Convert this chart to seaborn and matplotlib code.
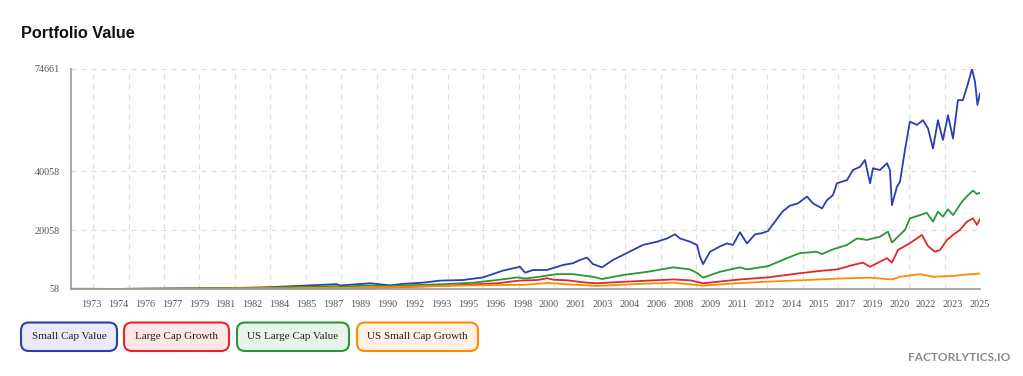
import numpy as np
import pandas as pd
import seaborn as sns
import matplotlib.pyplot as plt
from matplotlib.patches import FancyBboxPatch
from matplotlib.transforms import IdentityTransform

# --- data (decimal years, portfolio value) ---
series_names = ['Small Cap Value', 'Large Cap Growth', 'US Large Cap Value', 'US Small Cap Growth']
line_colors = ['#2c3eb0', '#e3262a', '#2a9634', '#ff8a00']
box_fills = ['#e8ebf8', '#fde6e6', '#e8f4ea', '#fff2e4']

scv_years = [1972.08, 1973.0, 1974.8, 1976.0, 1978.0, 1980.0, 1981.5, 1983.13, 1985.0, 1986.5,
             1987.6, 1987.85, 1989.57, 1990.74, 1991.5, 1992.67, 1993.66, 1995.01, 1996.18, 1997.35,
             1998.34, 1998.64, 1999.10, 1999.92, 2000.86, 2001.44, 2001.85, 2002.26, 2002.61, 2003.14,
             2003.78, 2004.37, 2004.95, 2005.54, 2006.36, 2006.94, 2007.41, 2007.70, 2008.29, 2008.70,
             2008.87, 2009.05, 2009.46, 2010.04, 2010.45, 2010.80, 2011.21, 2011.62, 2012.09, 2012.50,
             2012.85, 2013.37, 2013.73, 2014.13, 2014.60, 2015.13, 2015.48, 2016.01, 2016.30, 2016.65,
             2016.88, 2017.47, 2017.82, 2018.23, 2018.52, 2018.82, 2018.99, 2019.40, 2019.81, 2019.98,
             2020.10, 2020.39, 2020.57, 2020.86, 2021.15, 2021.56, 2021.91, 2022.21, 2022.50, 2022.79,
             2023.08, 2023.38, 2023.67, 2023.96, 2024.25, 2024.55, 2024.78, 2024.96, 2025.10, 2025.25]
scv_values = [100, 110, 75, 150, 220, 320, 420, 550, 1000, 1400,
              1700, 1250, 2000, 1300, 1800, 2200, 2900, 3100, 4000, 6300,
              7600, 5600, 6500, 6500, 8200, 8800, 9900, 10700, 8500, 7400,
              9900, 11600, 13300, 15000, 16100, 17200, 18600, 17200, 16100, 15000,
              11000, 8500, 12700, 14500, 15500, 15000, 19300, 15500, 18600, 19000,
              19700, 23800, 26500, 28300, 29100, 31400, 29100, 27400, 30200, 31900,
              35900, 37000, 40400, 41500, 43800, 35900, 41000, 40400, 42700, 40400,
              28500, 34700, 36400, 47200, 56800, 55700, 57300, 54500, 47700, 57300,
              50600, 59000, 51100, 64100, 64100, 69800, 74661, 70300, 62500, 66400]

lcg_years = [1972.08, 1973.0, 1974.8, 1976.0, 1978.0, 1980.0, 1982.0, 1985.0, 1987.6, 1987.85,
             1990.74, 1993.66, 1997.0, 1998.3, 1999.35, 1999.92, 2000.3, 2001.1, 2002.26, 2002.85,
             2004.37, 2007.3, 2008.3, 2009.05, 2011.21, 2012.85, 2014.7, 2015.9, 2016.9, 2017.82,
             2018.4, 2018.82, 2019.81, 2020.10, 2020.45, 2020.98, 2021.56, 2021.85, 2022.21, 2022.62,
             2022.91, 2023.32, 2023.67, 2024.08, 2024.49, 2024.84, 2025.07, 2025.25]
lcg_values = [100, 105, 65, 90, 110, 150, 200, 280, 450, 400,
              600, 1100, 2000, 2900, 3100, 3700, 3200, 3000, 2200, 2000,
              2500, 3300, 3000, 2000, 3300, 4000, 5400, 6200, 6700, 8200,
              9000, 7600, 10500, 9000, 13300, 15000, 17200, 18400, 14600, 12700,
              13300, 16700, 18400, 20100, 22900, 24000, 21800, 23800]

lcv_years = [1972.08, 1973.0, 1974.8, 1976.0, 1978.0, 1980.0, 1982.0, 1983.5, 1985.0, 1987.6,
             1987.85, 1989.5, 1990.74, 1992.0, 1993.66, 1995.6, 1997.0, 1998.2, 1998.64, 1999.2,
             2000.5, 2001.44, 2002.61, 2003.14, 2004.37, 2005.8, 2007.3, 2008.29, 2008.7, 2009.05,
             2010.04, 2011.21, 2011.62, 2012.85, 2013.95, 2014.7, 2015.7, 2016.01, 2016.65, 2017.47,
             2018.05, 2018.64, 2019.40, 2019.87, 2020.10, 2020.45, 2020.86, 2021.15, 2021.73, 2022.14,
             2022.50, 2022.79, 2023.08, 2023.38, 2023.67, 2024.20, 2024.55, 2024.84, 2025.07, 2025.25]
lcv_values = [100, 110, 80, 140, 200, 280, 380, 560, 700, 1000,
              850, 1250, 1050, 1350, 1650, 2200, 3100, 4000, 3600, 4000,
              5100, 5100, 4200, 3450, 4800, 5900, 7400, 6700, 5500, 3900,
              5900, 7400, 6700, 7800, 10500, 12200, 12700, 11900, 13500, 15000,
              17200, 16700, 17800, 19500, 15800, 17800, 20100, 24000, 25100, 25900,
              22900, 26300, 24600, 27100, 25100, 29700, 31900, 33400, 32300, 32700]

scg_years = [1972.08, 1973.0, 1974.8, 1976.0, 1978.0, 1980.0, 1983.5, 1984.5, 1987.6, 1987.85,
             1990.74, 1993.66, 1997.0, 1998.64, 2000.0, 2001.0, 2002.85, 2005.0, 2007.3, 2009.05,
             2011.0, 2013.0, 2014.7, 2017.47, 2018.8, 2020.1, 2020.57, 2021.73, 2022.5, 2023.67,
             2024.5, 2025.25]
scg_values = [100, 85, 58, 85, 130, 200, 350, 320, 550, 450,
              700, 1100, 1400, 1500, 2100, 1700, 1100, 1700, 2200, 1200,
              2000, 2600, 3000, 3700, 3900, 3300, 4200, 5100, 4200, 4500,
              5000, 5300]

y_ticks = [58, 20058, 40058, 74661]
x_tick_labels = ['1973', '1974', '1976', '1977', '1979', '1981', '1982', '1984', '1985', '1987',
                 '1989', '1990', '1992', '1993', '1995', '1996', '1998', '2000', '2001', '2003',
                 '2004', '2006', '2008', '2009', '2011', '2012', '2014', '2015', '2017', '2019',
                 '2020', '2022', '2023', '2025']

W, H = 1023, 376

frames = []
for name, yrs, vals in zip(series_names,
                           [scv_years, lcg_years, lcv_years, scg_years],
                           [scv_values, lcg_values, lcv_values, scg_values]):
    frames.append(pd.DataFrame({'year': yrs, 'value': vals, 'series': name}))
df = pd.concat(frames, ignore_index=True)

sns.set_style('white')
plt.rcParams['font.family'] = ['Liberation Serif', 'DejaVu Serif']

fig = plt.figure(figsize=(W / 100, H / 100), dpi=100)
ax = fig.add_axes([71 / W, 1 - 289 / H, (980 - 71) / W, (289 - 69) / H])

sns.lineplot(data=df, x='year', y='value', hue='series', hue_order=series_names,
             palette=line_colors, legend=False, linewidth=1.3, estimator=None, ax=ax)

ax.set_xlim(1972.08, 2025.25)
ax.set_ylim(58, 74661)
ax.set_xlabel('')
ax.set_ylabel('')

ax.set_xticks(np.linspace(1973.25, 2025.25, len(x_tick_labels)))
ax.set_xticklabels(x_tick_labels)
ax.set_xticks(np.linspace(1973.37, 2025.25, 26), minor=True)
ax.set_yticks(y_ticks)
ax.set_yticklabels([str(v) for v in y_ticks])

ax.tick_params(axis='both', which='major', direction='out', length=5, width=1,
               color='#999999', labelcolor='#555555', labelsize=7.3, pad=3)
ax.tick_params(axis='x', which='minor', length=0)

grid_kw = dict(color='#dcdcdc', linestyle=(0, (4, 4)), linewidth=0.9)
ax.grid(True, which='minor', axis='x', **grid_kw)
ax.grid(True, which='major', axis='y', **grid_kw)
ax.set_axisbelow(True)

for side in ['top', 'right']:
    ax.spines[side].set_visible(False)
for side in ['left', 'bottom']:
    ax.spines[side].set_color('#999999')
    ax.spines[side].set_linewidth(1.2)

fig.text(21 / W, 1 - 34 / H, 'Portfolio Value', fontsize=11.7, fontweight='bold',
         family=['Liberation Sans'], va='center', ha='left', color='#111111')

fig.text(1010 / W, 1 - 357.5 / H, 'FACTORLYTICS.IO', fontsize=8.6, fontweight='bold',
         family=['Lato', 'Liberation Sans'], va='center', ha='right', color='#8a8a8a')

# legend buttons
boxes = [(21, 117), (124, 229), (237, 349), (357, 478)]
for (x0, x1), name, lc, fc in zip(boxes, series_names, line_colors, box_fills):
    y0, y1 = H - 351, H - 322.5
    patch = FancyBboxPatch((x0, y0), x1 - x0, y1 - y0,
                           boxstyle='round,pad=0,rounding_size=8',
                           transform=IdentityTransform(), facecolor=fc,
                           edgecolor=lc, linewidth=1.5)
    fig.add_artist(patch)
    fig.text((x0 + x1) / 2 / W, ((y0 + y1) / 2) / H, name, fontsize=8.0,
             ha='center', va='center', color='#222222')

fig.savefig('out.png', dpi=100)
